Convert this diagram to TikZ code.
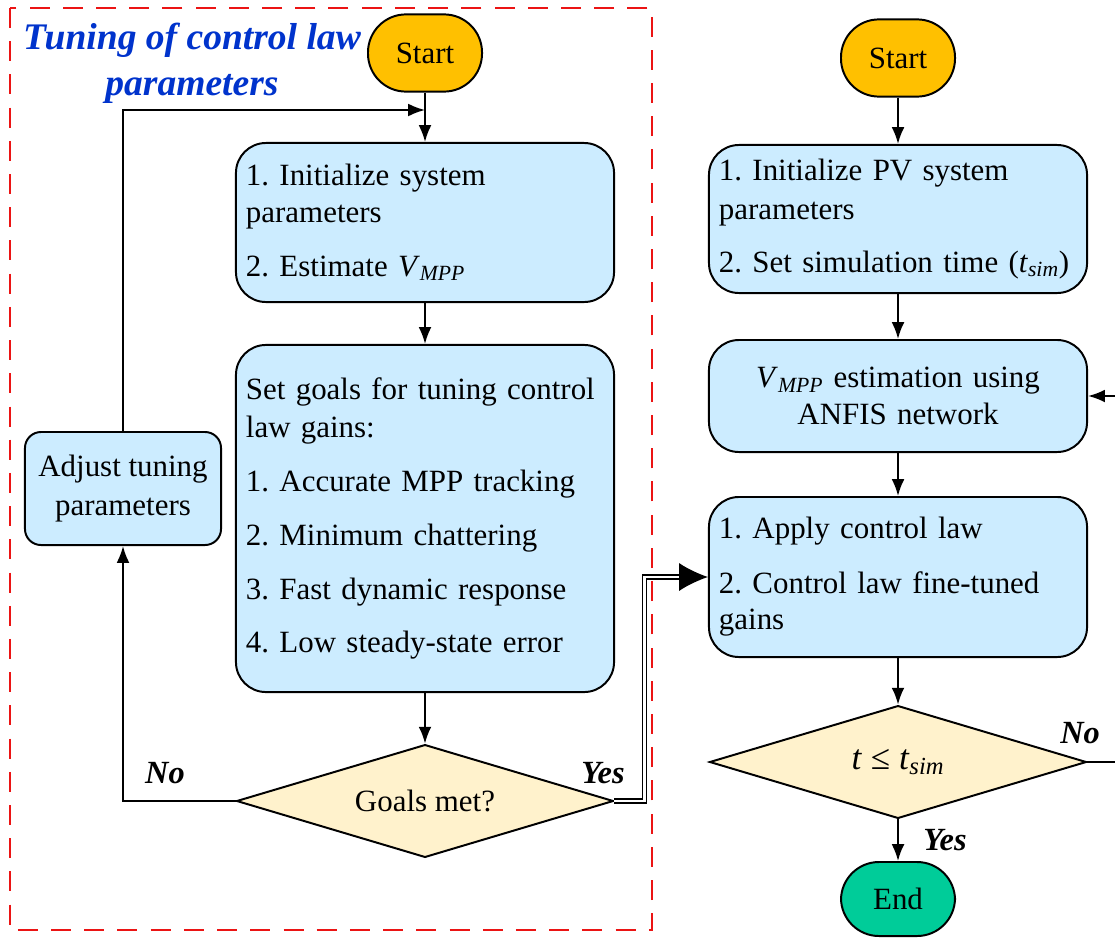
\documentclass[tikz,border=0pt]{standalone}
\usepackage{fontspec}
\setmainfont{Liberation Serif}
\usetikzlibrary{arrows.meta,shapes.geometric}
\definecolor{startorange}{RGB}{255,192,0}
\definecolor{procblue}{RGB}{204,236,255}
\definecolor{condyellow}{RGB}{255,242,204}
\definecolor{endgreen}{RGB}{0,204,153}
\definecolor{titleblue}{RGB}{0,51,204}
\definecolor{framered}{RGB}{235,20,20}
\newcommand{\vmpp}{\textit{V}\textsubscript{\textit{MPP}}}
\newcommand{\tsim}{\textit{t}\textsubscript{\textit{sim}}}
\frenchspacing

\begin{document}
\begin{tikzpicture}[x=0.025cm, y=-0.025cm,
  font=\fontsize{22}{26}\selectfont, line width=1.4pt,
  >={Latex[length=0.42cm,width=0.32cm]},
  term/.style={draw, rounded corners=0.95cm, minimum width=2.85cm, minimum height=1.93cm},
  procbox/.style={draw, fill=procblue, rounded corners=0.75cm, text width=8.95cm, inner xsep=0.25cm, align=left},
  cond/.style={draw, diamond, fill=condyellow, inner sep=0pt, aspect=3.3, minimum width=9.42cm, minimum height=2.82cm},
  lbl/.style={font=\fontsize{23}{26}\selectfont\bfseries\itshape}]

\useasboundingbox (0,0) rectangle (1115,940);

\draw[framered, line width=2pt, dash pattern=on 0.5cm off 0.33cm] (10,8) rectangle (652,930);

\node(title) at(192,63) [align=center, text=titleblue, font=\fontsize{26.7}{32.5}\selectfont\bfseries\itshape] {Tuning of control law\\parameters};

\node(start1) at(425,53) [term, fill=startorange] {Start};
\node(box1) at(425,222.5) [procbox, minimum height=3.975cm]
  {1. Initialize system\\parameters\\[0.45cm]2. Estimate \vmpp};
\node(box2) at(425,518.5) [procbox, minimum height=8.675cm]
  {Set goals for tuning control\\[0.05cm]law gains:\\[0.43cm]1. Accurate MPP tracking\\[0.43cm]2. Minimum chattering\\[0.43cm]3. Fast dynamic response\\[0.43cm]4. Low steady-state error};
\node(goals) at(425,801) [cond] {Goals met?};
\node(adjust) at(123,488.5) [draw, fill=procblue, rounded corners=0.4cm, minimum width=4.9cm, minimum height=2.825cm, align=center] {Adjust tuning\\[0.05cm]parameters};
\coordinate(fb) at(425,110);

\node(start2) at(898,58) [term, fill=startorange] {Start};
\node(box3) at(898,219) [procbox, minimum height=3.7cm]
  {1. Initialize PV system\\[0.05cm]parameters\\[0.4cm]2. Set simulation time (\tsim)};
\node(anfis) at(898,396) [procbox, align=center, minimum height=2.8cm]
  {\vmpp{} estimation using\\ANFIS network};
\node(box5) at(898,577) [procbox, minimum height=4cm]
  {1. Apply control law\\[0.45cm]2. Control law fine-tuned\\gains};
\node(tcheck) at(898,762) [cond, font=\fontsize{25}{28}\selectfont] {\textit{t} ≤ \tsim};
\node(end) at(898,899) [term, fill=endgreen, minimum width=2.85cm, minimum height=1.85cm] {End};
\coordinate(noend) at(1115,762);
\coordinate(loopin) at(1115,396);

\node(no1) at(165,773) [lbl] {No};
\node(yes1) at(603,773) [lbl] {Yes};
\node(no2) at(1080,733) [lbl] {No};
\node(yes2) at(945,840) [lbl] {Yes};

\draw[->] (start1) -- (box1);
\draw[->] (box1) -- (box2);
\draw[->] (box2) -- (goals);
\draw[->] 
(goals.west) -| 
(adjust.south)
;
\draw[->] 
(adjust.north) |- 
(fb)
;
\draw[double, double distance=1.6pt, line width=1pt, -{Latex[length=0.72cm,width=0.7cm]}] 
(goals.east) -- ++(30,0) |- 
(box5.west)
;

\draw[->] (start2) -- (box3);
\draw[->] (box3) -- (anfis);
\draw[->] (anfis) -- (box5);
\draw[->] (box5) -- (tcheck);
\draw[->] (tcheck) -- (end);
\draw (tcheck.east) -- (noend);
\draw[->] (loopin) -- (anfis.east);

\end{tikzpicture}
\end{document}
